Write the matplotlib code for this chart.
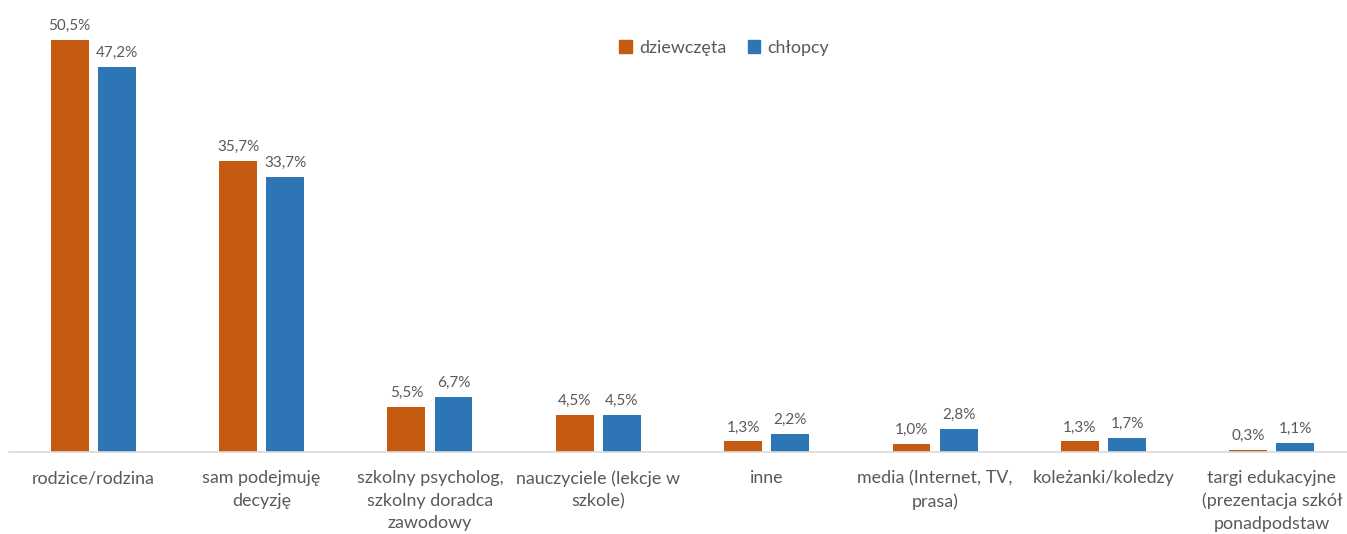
import matplotlib
matplotlib.use("Agg")
import matplotlib.pyplot as plt
import numpy as np
from matplotlib.patches import Patch

categories = ["rodzice/rodzina", "sam podejmuję\ndecyzję", "szkolny psycholog,\nszkolny doradca\nzawodowy",
              "nauczyciele (lekcje w\nszkole)", "inne", "media (Internet, TV,\nprasa)", "koleżanki/koledzy",
              "targi edukacyjne\n(prezentacja szkół\nponadpodstaw"]
girls = [50.5, 35.7, 5.5, 4.5, 1.3, 1.0, 1.3, 0.3]
boys = [47.2, 33.7, 6.7, 4.5, 2.2, 2.8, 1.7, 1.1]
series_names = ["dziewczęta", "chłopcy"]

c_girls = "#C55A11"
c_boys = "#2E75B6"
txt = "#595959"

plt.rcParams['font.family'] = ['Lato', 'DejaVu Sans']

fig = plt.figure(figsize=(13.47, 5.34), dpi=100)
ax_left, ax_w = 9, 1347
ax = fig.add_axes([ax_left/1347, (534-452)/534, ax_w/1347, 449/534])

x = np.arange(len(categories))
w = 0.225
off = 0.14
b1 = ax.bar(x - off, girls, w, color=c_girls)
b2 = ax.bar(x + off, boys, w, color=c_boys)

def fmt(v):
    return f"{v:.1f}%".replace(".", ",")

for bars, vals in ((b1, girls), (b2, boys)):
    for r, v in zip(bars, vals):
        ax.annotate(fmt(v), (r.get_x() + r.get_width()/2, v), xytext=(0, 5),
                    textcoords="offset points", ha="center", va="bottom",
                    fontsize=11, color=txt)

ax.set_xlim(-0.5, len(categories) - 0.5)
ax.set_ylim(0, 55)
ax.set_yticks([])
ax.set_xticks(x)
ax.set_xticklabels(categories, fontsize=12.9, color=txt, linespacing=1.5)
ax.tick_params(axis='x', length=0, pad=13)
for s in ("top", "right", "left"):
    ax.spines[s].set_visible(False)
ax.spines["bottom"].set_color("#D9D9D9")
ax.spines["bottom"].set_linewidth(1.2)

handles = [Patch(color=c_girls), Patch(color=c_boys)]
leg_x = (724 - ax_left) / ax_w
leg_y = (452 - 48) / 449
leg = ax.legend(handles, series_names, loc="center", bbox_to_anchor=(leg_x, leg_y),
                ncol=2, frameon=False, fontsize=12.9, handlelength=0.7, handleheight=0.7,
                handletextpad=0.4, columnspacing=1.2)
for t in leg.get_texts():
    t.set_color(txt)

fig.savefig("out.png", dpi=100)
